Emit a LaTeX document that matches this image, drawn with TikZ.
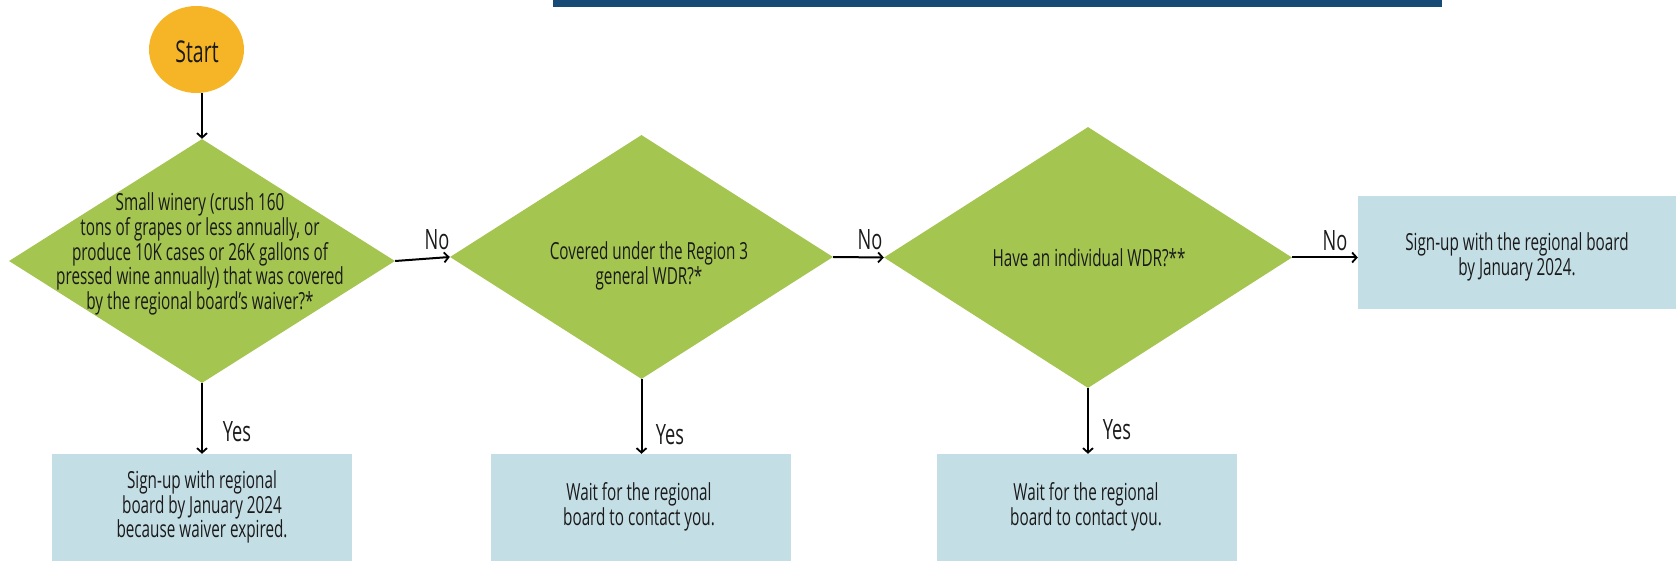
\documentclass[tikz,border=0pt]{standalone}
\usepackage{fontspec}
\setmainfont{Open Sans}[FakeStretch=0.65]
\usetikzlibrary{shapes.geometric,arrows.meta}
\definecolor{startor}{HTML}{F5B526}
\definecolor{decgreen}{HTML}{A5C551}
\definecolor{boxblue}{HTML}{C4DEE6}
\definecolor{barblue}{HTML}{174A75}
\definecolor{ink}{HTML}{1A1A1A}
\tikzset{
  dec/.style={diamond, fill=decgreen, draw=none, inner sep=0pt},
  resbox/.style={rectangle, fill=boxblue, draw=none, inner sep=0pt},
  txt/.style={align=center, text=ink, inner sep=0pt, font=\fontsize{23.5}{20}\selectfont},
  lbl/.style={text=ink, inner sep=0pt, font=\fontsize{28}{28}\selectfont},
  conn/.style={draw=black, line width=2pt, -{Straight Barb[length=4.5pt,width=10pt,line width=1.8pt]}}
}
\begin{document}
\begin{tikzpicture}[x=1pt,y=-1pt]
\useasboundingbox (0,0) rectangle (1676,561);
\fill[barblue] (553,0) rectangle (1442,7);

% start
\node[ellipse, fill=startor, minimum width=95pt, minimum height=87pt, inner sep=0pt] (start) at (196.5,49.5) {};
\node[text=ink, inner sep=0pt, font=\fontsize{30}{30}\selectfont] (starttxt) at (197,52) {Start};

% decisions
\node[dec, minimum width=386pt, minimum height=244pt] (d1) at (202,261) {};
\node[dec, minimum width=383pt, minimum height=244pt] (d2) at (641.5,257) {};
\node[dec, minimum width=408pt, minimum height=261pt] (d3) at (1088,257.5) {};

\node[txt] (d1txt) at (200,254) {Small winery (crush 160\\tons of grapes or less annually, or\\produce 10K cases or 26K gallons of\\pressed wine annually) that was covered\\by the regional board\char"0027 s waiver?*};
\node[txt] (d2txt) at (649,266) {Covered under the Region 3\\general WDR?*};
\node[txt] (d3txt) at (1089,258) {Have an individual WDR?**};

% result boxes
\node[resbox, minimum width=300pt, minimum height=107pt] (b1) at (202,507.5) {};
\node[resbox, minimum width=300pt, minimum height=107pt] (b2) at (641,507.5) {};
\node[resbox, minimum width=300pt, minimum height=107pt] (b3) at (1087,507.5) {};
\node[resbox, minimum width=318pt, minimum height=113pt] (b4) at (1517,252.5) {};

\node[txt] (b1txt) at (202,507) {Sign-up with regional\\board by January 2024\\because waiver expired.};
\node[txt] (b2txt) at (639,507) {Wait for the regional\\board to contact you.};
\node[txt] (b3txt) at (1086,507) {Wait for the regional\\board to contact you.};
\node[txt] (b4txt) at (1517,257) {Sign-up with the regional board\\by January 2024.};

% connectors
\draw[conn] (d1.north |- start.south) -- (d1.north);
\draw[conn] (d1.south) -- (b1.north -| d1.south);
\draw[conn] (d2.south) -- (b2.north -| d2.south);
\draw[conn] (d3.south) -- (b3.north -| d3.south);
\draw[conn] (d1.east) -- (d2.west);
\draw[conn] (d2.east) -- (d3.west);
\draw[conn] (d3.east) -- (b4.west |- d3.east);

% labels
\node[lbl] (yes1) at (237,432) {Yes};
\node[lbl] (yes2) at (670,435) {Yes};
\node[lbl] (yes3) at (1117,430) {Yes};
\node[lbl] (no1) at (437,240) {No};
\node[lbl] (no2) at (870,240) {No};
\node[lbl] (no3) at (1335,241) {No};
\end{tikzpicture}
\end{document}
